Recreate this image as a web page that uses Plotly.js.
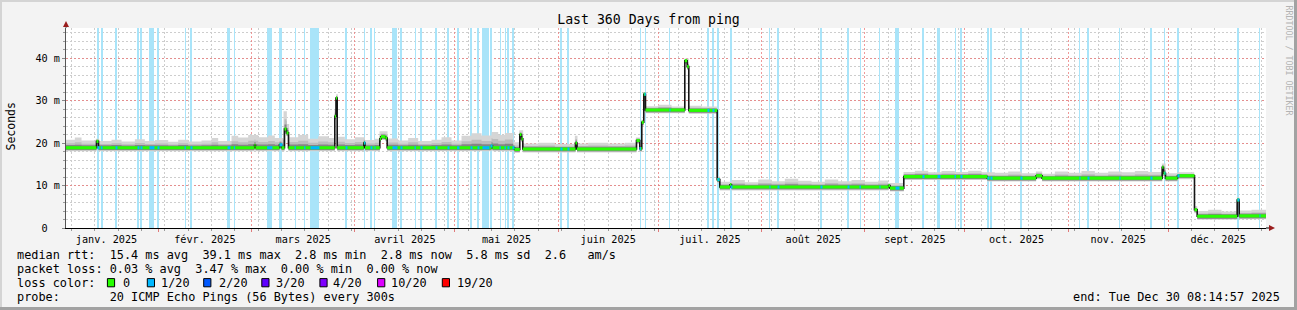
<!DOCTYPE html>
<html>
<head>
<meta charset="utf-8">
<script src="https://cdn.plot.ly/plotly-3.0.1.min.js"></script>
<style>
html,body{margin:0;padding:0;background:#f3f3f3;overflow:hidden;}
#chart{width:1297px;height:310px;}
</style>
</head>
<body>
<div id="chart"></div>
<script>
// ---------------- DATA ----------------
// month tick labels (French)
const monthNames = ['janv.','févr.','mars','avril','mai','juin','juil.','août','sept.','oct.','nov.','déc.'];
const dayNames = ['dimanche','lundi','mardi','mercredi','jeudi','vendredi','samedi'];

// time is expressed in days since 2025-01-01 00:00
const rangeStartDay = 3.344;   // 2025-01-04 08:14:57
const rangeEndDay = 363.344;   // 2025-12-30 08:14:57

// median RTT (ms), step changes
const medianDays = [3.344, 12.49, 13.09, 59.89, 60.19, 67.39, 67.99, 68.89, 69.49, 70.09,
  83.98, 84.34, 84.70, 92.68, 93.04, 97.48, 97.84, 99.19, 99.70, 130.99,
  131.29, 137.89, 139.48, 139.99, 140.38, 156.19, 156.64, 174.49, 175.48, 176.08,
  176.68, 177.19, 188.98, 189.70, 190.18, 198.70, 199.48, 202.54, 202.99, 250.09,
  250.54, 254.68, 279.70, 294.37, 296.17, 332.20, 332.59, 333.19, 336.79, 341.89,
  342.70, 354.70, 355.30];
const medianMs = [18.9, 20.4, 18.9, 19.5, 18.9, 19.6, 18.9, 23.3, 22.4, 18.9,
  26.3, 30.6, 18.9, 20.0, 18.9, 21.0, 21.5, 21.2, 18.9, 19.3,
  18.9, 18.5, 22.0, 21.0, 18.6, 20.0, 18.6, 20.6, 18.7, 24.9,
  31.5, 27.8, 39.4, 38.0, 27.7, 11.4, 9.65, 10.2, 9.65, 10.0,
  9.4, 12.1, 11.75, 12.3, 11.75, 14.3, 12.9, 11.75, 12.3, 4.3,
  2.75, 6.6, 2.85];

// upper edge of the smoke (ms), step changes
const smokeDays = [3.344, 6, 8, 12.3, 13.3, 17, 20, 24, 27, 30,
  34, 37, 40, 44, 47, 49, 53, 55, 58, 61,
  64, 66, 68.6, 69.6, 70.3, 73, 76, 79, 82, 83.9,
  84.4, 84.9, 87, 90, 93, 96, 97.4, 99.8, 103, 106,
  109, 113, 116, 119, 122, 125, 128, 131, 133, 135,
  137.5, 139.3, 140.5, 145, 150, 156.0, 156.8, 160, 166, 171,
  174.3, 175.5, 176.0, 176.6, 177.2, 181, 185, 188.9, 190.2, 194,
  198.6, 199.4, 203, 207, 211, 215, 219, 223, 227, 231,
  235, 239, 243, 247, 250, 254.6, 258, 262, 266, 270,
  274, 278, 282, 286, 290, 294.3, 296.2, 300, 304, 308,
  312, 316, 320, 324, 328, 332.1, 333.2, 336.7, 341.8, 342.7,
  346, 350, 354.6, 355.3, 359];
const smokeTopMs = [20.8, 21.3, 20.6, 21.0, 20.5, 20.8, 20.4, 20.9, 20.5, 20.7,
  20.3, 20.8, 20.4, 20.6, 21.2, 20.5, 21.7, 21.3, 21.9, 21.4,
  21.8, 21.2, 27.5, 24.5, 21.4, 21.9, 21.0, 21.6, 21.2, 28.0,
  31.5, 21.5, 20.9, 21.4, 20.7, 21.0, 22.8, 21.1, 20.6, 21.2,
  20.5, 20.8, 21.4, 20.6, 21.7, 22.3, 21.8, 22.6, 21.9, 22.4,
  20.2, 23.0, 19.9, 20.1, 19.8, 21.7, 19.9, 20.1, 19.9, 20.1,
  21.3, 19.9, 25.5, 32.0, 28.7, 29.0, 28.6, 39.9, 28.8, 28.6,
  12.2, 10.9, 11.3, 10.8, 11.4, 11.0, 11.6, 11.1, 10.9, 11.4,
  11.0, 11.3, 10.9, 11.2, 10.6, 13.2, 13.5, 13.1, 13.4, 13.2,
  13.5, 13.1, 13.0, 13.3, 12.9, 13.3, 12.8, 13.3, 13.0, 13.4,
  13.0, 13.3, 13.1, 13.4, 13.2, 15.2, 12.9, 13.1, 5.2, 4.0,
  4.3, 3.9, 7.3, 4.1, 4.3];

// packet loss periods: centre day and span (days)
const lossDays = [13.09, 14.05, 18.49, 25.09, 25.99, 29.14, 31.09, 39.10, 40.99, 52.24,
  53.89, 64.48, 67.84, 72.10, 74.98, 78.04, 87.49, 92.98, 94.99, 96.04,
  102.04, 103.99, 108.10, 109.99, 114.49, 118.09, 121.03, 124.99, 127.09, 129.34,
  130.99, 133.60, 135.10, 136.09, 137.59, 151.99, 154.09, 175.60, 177.10, 184.54,
  196.09, 197.59, 199.09, 202.99, 214.54, 217.09, 229.99, 238.09, 241.60, 247.54,
  252.79, 260.59, 265.24, 270.10, 271.99, 280.09, 280.99, 289.99, 307.54, 310.09,
  319.54, 328.99, 333.04, 337.09, 355.09, 361.54];
const lossSpanDays = [0.6, 0.5, 0.6, 0.6, 0.6, 1.5, 0.6, 0.4, 0.6, 0.9,
  0.4, 1.6, 0.9, 0.4, 0.4, 2.7, 0.6, 0.4, 0.6, 0.3,
  1.5, 0.6, 0.4, 0.6, 0.6, 0.6, 0.7, 0.6, 0.6, 2.1,
  0.6, 0.4, 0.4, 0.6, 0.6, 0.6, 0.6, 0.4, 0.4, 0.3,
  0.6, 0.6, 0.6, 0.6, 0.3, 0.6, 0.6, 0.6, 0.4, 0.3,
  1.2, 0.6, 0.9, 0.4, 0.6, 0.6, 0.6, 0.6, 0.3, 0.6,
  0.3, 0.6, 0.3, 0.6, 0.6, 0.3];

// y axis ticks
const yTickVals = [0, 10, 20, 30, 40];
const yTickText = ['0  ', '10 m', '20 m', '30 m', '40 m'];
const Y_MAX = 47.1;

// legend
const legendLines = [
  'median rtt:  15.4 ms avg  39.1 ms max  2.8 ms min  2.8 ms now  5.8 ms sd  2.6   am/s',
  'packet loss: 0.03 % avg  3.47 % max  0.00 % min  0.00 % now',
  'loss color:',
  'probe:       20 ICMP Echo Pings (56 Bytes) every 300s'
];
const lossLabels = ['0', '1/20', '2/20', '3/20', '4/20', '10/20', '19/20'];
const lossColors = ['#26ff00', '#00b8ff', '#0059ff', '#5e00ff', '#7e00ff', '#dd00ff', '#ff0000'];
const endText = 'end: Tue Dec 30 08:14:57 2025';
const titleText = 'Last 360 Days from ping';

(function () {
// ---------------- BUILD ----------------
const MONO = 'DejaVu Sans Mono';
const LEG_SIZE = 11.85;
const DAY_MS = 86400000;
const T0 = Date.UTC(2025, 0, 1);
const toDate = d => new Date(T0 + Math.round(d * DAY_MS)).toISOString().slice(0, 19).replace('T', ' ');
const nb = s => s.replace(/ /g, '\u00a0');
function stepAt(days, vals, d) {
  let v = vals[0];
  for (let i = 0; i < days.length; i++) { if (days[i] <= d + 1e-9) v = vals[i]; else break; }
  return v;
}

Plotly.register({
  moduleType: 'locale', name: 'frx', dictionary: {},
  format: {
    days: dayNames, shortDays: dayNames.map(s => s.slice(0, 3) + '.'),
    months: monthNames, shortMonths: monthNames,
    periods: ['AM', 'PM'], dateTime: '%a %b %e %X %Y', date: '%d/%m/%Y', time: '%H:%M:%S',
    decimal: '.', thousands: ',', grouping: [3], currency: ['$', '']
  }
});

const traces = [];

// loss bars (full height)
traces.push({
  type: 'bar', x: lossDays.map(toDate), y: lossDays.map(() => Y_MAX), base: 0,
  width: lossSpanDays.map(w => w * DAY_MS),
  marker: { color: '#a9e4f9', line: { width: 0 } }, hoverinfo: 'skip', showlegend: false
});

// smoke
const pts = Array.from(new Set([...medianDays, ...smokeDays, rangeEndDay])).sort((a, b) => a - b);
const med = pts.map(d => stepAt(medianDays, medianMs, d));
const smokeUp = pts.map((d, i) => Math.max(stepAt(smokeDays, smokeTopMs, d), med[i] + 0.3));
const xs = pts.map(toDate);
const bands = [
  { lo: i => med[i] - 0.8, hi: i => smokeUp[i], color: '#d5d5d5' },
  { lo: i => med[i] - 0.65, hi: i => med[i] + 0.55 * (smokeUp[i] - med[i]), color: '#bcbcbc' },
  { lo: i => med[i] - 0.55, hi: i => med[i] + 0.2 * (smokeUp[i] - med[i]) + 0.25, color: '#858585' }
];
bands.forEach(b => {
  traces.push({ type: 'scatter', mode: 'lines', x: xs, y: pts.map((_, i) => b.lo(i)),
    line: { width: 0, shape: 'hv' }, hoverinfo: 'skip', showlegend: false });
  traces.push({ type: 'scatter', mode: 'lines', x: xs, y: pts.map((_, i) => b.hi(i)),
    line: { width: 0, shape: 'hv' }, fill: 'tonexty', fillcolor: b.color, hoverinfo: 'skip', showlegend: false });
});

// median black line
traces.push({
  type: 'scatter', mode: 'lines',
  x: [...medianDays, rangeEndDay].map(toDate),
  y: [...medianMs, medianMs[medianMs.length - 1]],
  line: { color: '#151515', width: 1.6, shape: 'hv' }, hoverinfo: 'skip', showlegend: false
});

// green (no loss) horizontal segments
const gx = [], gy = [];
for (let i = 0; i < medianDays.length; i++) {
  const d1 = i + 1 < medianDays.length ? medianDays[i + 1] : rangeEndDay;
  gx.push(toDate(medianDays[i]), toDate(d1), null);
  gy.push(medianMs[i], medianMs[i], null);
}
traces.push({ type: 'scatter', mode: 'lines', x: gx, y: gy, connectgaps: false,
  line: { color: lossColors[0], width: 3.1 }, hoverinfo: 'skip', showlegend: false });

// blue (1/20 loss) segments on the median
const bx = [], by = [];
lossDays.forEach((c, i) => {
  const w = Math.max(lossSpanDays[i], 0.3);
  const v = stepAt(medianDays, medianMs, c);
  bx.push(toDate(c - w / 2), toDate(c + w / 2), null);
  by.push(v, v, null);
});
traces.push({ type: 'scatter', mode: 'lines', x: bx, y: by, connectgaps: false,
  line: { color: lossColors[1], width: 3.1 }, hoverinfo: 'skip', showlegend: false });

// ---------------- LAYOUT ----------------
const FW = 1297, FH = 310;
const L = 66, R = 1266, T = 28, B = 228;
const W = R - L, H = B - T;
const pxX = x => (x - L) / W;
const pxY = y => (B - y) / H;

const shapes = [
  { type: 'rect', xref: 'paper', yref: 'paper', x0: pxX(0), x1: pxX(FW), y0: pxY(0), y1: pxY(2), fillcolor: '#d4d4d4', line: { width: 0 } },
  { type: 'rect', xref: 'paper', yref: 'paper', x0: pxX(0), x1: pxX(2), y0: pxY(0), y1: pxY(FH), fillcolor: '#d4d4d4', line: { width: 0 } },
  { type: 'rect', xref: 'paper', yref: 'paper', x0: pxX(FW - 3), x1: pxX(FW), y0: pxY(0), y1: pxY(FH), fillcolor: '#a2a2a2', line: { width: 0 } },
  { type: 'rect', xref: 'paper', yref: 'paper', x0: pxX(0), x1: pxX(FW), y0: pxY(FH - 3), y1: pxY(FH), fillcolor: '#a2a2a2', line: { width: 0 } },
  { type: 'line', xref: 'paper', yref: 'paper', x0: pxX(R), x1: pxX(1270), y0: 0, y1: 0, line: { color: '#000', width: 1 } },
  { type: 'line', xref: 'paper', yref: 'paper', x0: 0, x1: 0, y0: 1, y1: pxY(25), line: { color: '#555', width: 1 } },
  { type: 'path', xref: 'paper', yref: 'paper',
    path: `M ${pxX(1269)} ${pxY(225)} L ${pxX(1275)} ${pxY(228)} L ${pxX(1269)} ${pxY(231)} Z`,
    fillcolor: '#9a1d1d', line: { width: 0 } },
  { type: 'path', xref: 'paper', yref: 'paper',
    path: `M ${pxX(63)} ${pxY(27)} L ${pxX(66)} ${pxY(21)} L ${pxX(69)} ${pxY(27)} Z`,
    fillcolor: '#9a1d1d', line: { width: 0 } }
];

const annotations = [];
const legendY = [254.6, 268.6, 282.6, 296.6];
legendLines.forEach((s, i) => {
  annotations.push({ xref: 'paper', yref: 'paper', x: pxX(15.8), y: pxY(legendY[i]), xanchor: 'left', yanchor: 'middle',
    text: nb(s), showarrow: false, font: { family: MONO, size: LEG_SIZE, color: '#000' }, borderpad: 0 });
});
const boxX = [107.4, 147.3, 203.7, 261.8, 319.9, 377.6, 442.3];
const labX = [122.0, 159.6, 217.6, 274.9, 332.2, 390.2, 456.2];
lossLabels.forEach((lab, i) => {
  shapes.push({ type: 'rect', xref: 'paper', yref: 'paper', x0: pxX(boxX[i]), x1: pxX(boxX[i] + 7.2),
    y0: pxY(286.8), y1: pxY(278.6), fillcolor: lossColors[i], line: { color: '#000', width: 1 } });
  annotations.push({ xref: 'paper', yref: 'paper', x: pxX(labX[i]), y: pxY(legendY[2]), xanchor: 'left', yanchor: 'middle',
    text: nb(lab), showarrow: false, font: { family: MONO, size: LEG_SIZE, color: '#000' }, borderpad: 0 });
});
annotations.push({ xref: 'paper', yref: 'paper', x: pxX(1281), y: pxY(legendY[3]), xanchor: 'right', yanchor: 'middle',
  text: nb(endText), showarrow: false, font: { family: MONO, size: LEG_SIZE, color: '#000' }, borderpad: 0 });
annotations.push({ xref: 'paper', yref: 'paper', x: pxX(10.5), y: pxY(127), xanchor: 'center', yanchor: 'middle',
  text: 'Seconds', textangle: -90, showarrow: false, font: { family: MONO, size: 11.5, color: '#000' }, borderpad: 0 });
annotations.push({ xref: 'paper', yref: 'paper', x: pxX(1288.5), y: pxY(60), xanchor: 'center', yanchor: 'middle',
  text: nb('RRDTOOL / TOBI OETIKER'), textangle: 90, showarrow: false, font: { family: MONO, size: 8.3, color: '#b3b3b3' }, borderpad: 0 });

const layout = {
  width: FW, height: FH,
  margin: { l: L, r: FW - R, t: T, b: FH - B, pad: 0 },
  paper_bgcolor: '#f3f3f3', plot_bgcolor: '#ffffff',
  font: { family: MONO, size: 10.2, color: '#000' },
  title: { text: titleText, font: { family: MONO, size: 13.2, color: '#000' },
    x: 0.5, xref: 'container', xanchor: 'center', y: 1 - 19.5 / FH, yref: 'container', yanchor: 'middle' },
  showlegend: false, bargap: 0,
  xaxis: {
    type: 'date', range: [toDate(rangeStartDay), toDate(rangeEndDay)],
    tickmode: 'linear', dtick: 'M1', tick0: '2025-01-01', tickformat: '%b %Y', ticklabelmode: 'period',
    showgrid: true, gridcolor: 'rgba(235,120,120,0.75)', griddash: '2px,2px', gridwidth: 1,
    ticks: 'outside', ticklen: 3, tickcolor: '#e07a7a', ticklabelstandoff: -1,
    showline: true, linecolor: '#000', linewidth: 1, zeroline: false, fixedrange: true,
    tickfont: { family: MONO, size: 10.2, color: '#000' },
    minor: { dtick: 7 * DAY_MS, tick0: '2025-01-06', showgrid: true, gridcolor: '#cdcdcd', griddash: '2px,2px',
      ticks: 'outside', ticklen: 2, tickcolor: '#9a9a9a' }
  },
  yaxis: {
    range: [0, Y_MAX], tickmode: 'array', tickvals: yTickVals, ticktext: yTickText.map(nb),
    showgrid: true, gridcolor: 'rgba(235,120,120,0.75)', griddash: '2px,2px', gridwidth: 1,
    ticks: 'outside', ticklen: 3, tickcolor: '#888',
    showline: true, linecolor: '#555', linewidth: 1, zeroline: false, fixedrange: true,
    tickfont: { family: MONO, size: 10.2, color: '#000' },
    minor: { tickmode: 'linear', tick0: 0, dtick: 2, showgrid: true, gridcolor: '#cdcdcd', griddash: '2px,2px',
      ticks: 'outside', ticklen: 2, tickcolor: '#9a9a9a' }
  },
  shapes: shapes,
  annotations: annotations
};

Plotly.newPlot('chart', traces, layout, { staticPlot: true, displayModeBar: false, locale: 'frx' });
})();
</script>
</body>
</html>
